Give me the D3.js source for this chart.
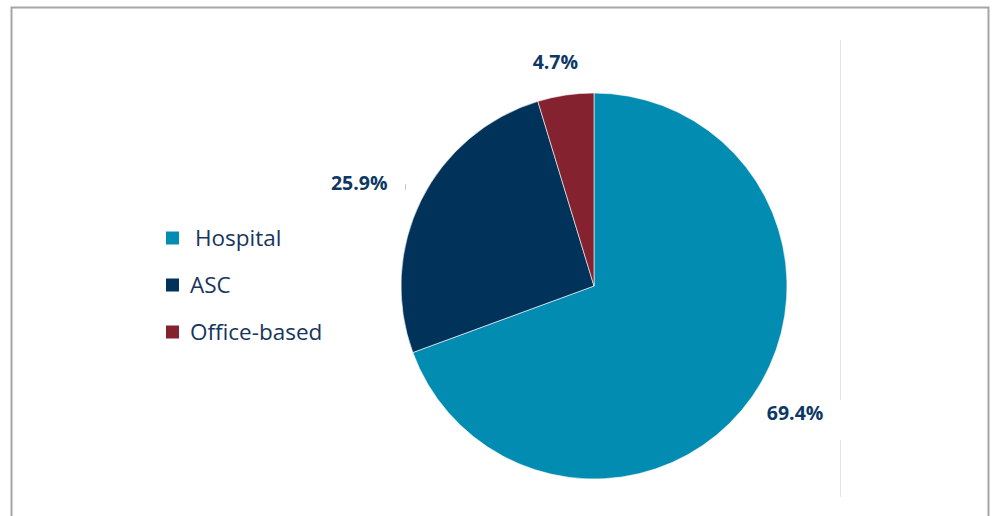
<!DOCTYPE html>
<html>
<head>
<meta charset="utf-8">
<script src="https://cdn.jsdelivr.net/npm/d3@7"></script>
<style>
  body { margin: 0; background: #fff; }
  svg { display: block; }
</style>
</head>
<body>
<svg width="993" height="516"></svg>
<script>
var categories = ["Hospital", "ASC", "Office-based"];
var shares = [69.4, 25.9, 4.7];
var labelText = ["69.4%", "25.9%", "4.7%"];
var colors = ["#038cb1", "#00325a", "#84222f"];

var svg = d3.select("svg");

// outer frame
svg.append("path")
    .attr("d", "M11.5,516 V7.5 H988.5 V516")
    .attr("fill", "none")
    .attr("stroke", "#a6a6a6")
    .attr("stroke-width", 2);

// faint vertical divider (broken behind the label)
svg.append("line").attr("x1", 840.5).attr("x2", 840.5).attr("y1", 40).attr("y2", 400)
    .attr("stroke", "#e3e3e3");
svg.append("line").attr("x1", 840.5).attr("x2", 840.5).attr("y1", 440).attr("y2", 497)
    .attr("stroke", "#e3e3e3");

var cx = 594, cy = 286, r = 193;

var pie = d3.pie().sort(null).value(function(d) { return d; });
var arc = d3.arc().innerRadius(0).outerRadius(r);
var arcs = pie(shares);

var g = svg.append("g").attr("transform", "translate(" + cx + "," + cy + ")");

g.selectAll("path")
    .data(arcs)
  .enter().append("path")
    .attr("d", arc)
    .attr("fill", function(d, i) { return colors[i]; })
    .attr("stroke", "#fff")
    .attr("stroke-width", 0.6);

// data labels placed outside the slices
var labelArc = d3.arc().innerRadius(r * 1.22).outerRadius(r * 1.22);
var labelOffsets = [[8, -8], [-24, 2], [-4, 9]];
g.selectAll("text.lbl")
    .data(arcs)
  .enter().append("text")
    .attr("class", "lbl")
    .attr("transform", function(d, i) {
      var c = labelArc.centroid(d);
      return "translate(" + (c[0] + labelOffsets[i][0]) + "," + (c[1] + labelOffsets[i][1]) + ")";
    })
    .attr("text-anchor", "middle")
    .attr("dy", "0.35em")
    .style("font-family", "'Open Sans', sans-serif")
    .style("font-weight", "bold")
    .style("font-size", "19.5px")
    .style("fill", "#0d3866")
    .text(function(d, i) { return labelText[i]; });

// small leader stub next to 25.9%
svg.append("line").attr("x1", 405.5).attr("x2", 405.5).attr("y1", 184).attr("y2", 190)
    .attr("stroke", "#c8c8c8");

// legend
var legendY = d3.scalePoint().domain(categories).range([238, 332]);
var legend = svg.selectAll("g.leg")
    .data(categories)
  .enter().append("g")
    .attr("class", "leg")
    .attr("transform", function(d) { return "translate(166," + legendY(d) + ")"; });

legend.append("rect")
    .attr("x", 0).attr("y", -6.5)
    .attr("width", 13).attr("height", 13)
    .attr("fill", function(d, i) { return colors[i]; });

legend.append("text")
    .attr("x", function(d, i) { return i === 0 ? 29 : 24; })
    .attr("dy", "0.35em")
    .style("font-family", "'Open Sans', sans-serif")
    .style("font-size", "22.5px")
    .style("fill", "#17365d")
    .text(function(d) { return d; });
</script>
</body>
</html>
